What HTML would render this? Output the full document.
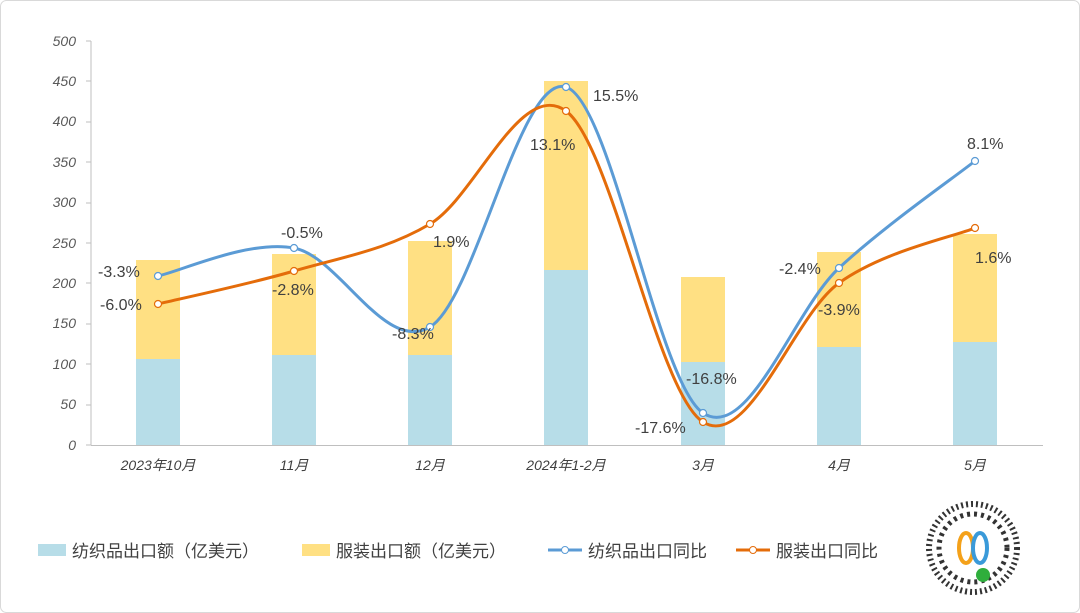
<!DOCTYPE html>
<html><head><meta charset="utf-8"><style>
body{margin:0;background:#fff;}
svg{display:block;font-family:"Liberation Sans","Noto Sans CJK SC",sans-serif;}
</style></head><body>
<svg width="1080" height="613" viewBox="0 0 1080 613">
<rect x="0.5" y="0.5" width="1079" height="612" rx="6" fill="#fff" stroke="#d9d9d9"/>
<g fill="#595959" font-size="14" text-anchor="end" font-style="italic">
<text x="76" y="450">0</text><text x="76" y="409">50</text><text x="76" y="369">100</text>
<text x="76" y="328">150</text><text x="76" y="288">200</text><text x="76" y="248">250</text>
<text x="76" y="207">300</text><text x="76" y="167">350</text><text x="76" y="126">400</text>
<text x="76" y="86">450</text><text x="76" y="46">500</text>
</g>
<g stroke="#bfbfbf" stroke-width="1">
<line x1="91" y1="41" x2="91" y2="445"/><line x1="91" y1="445.5" x2="1043" y2="445.5"/>
<line x1="86" y1="445" x2="91" y2="445"/><line x1="86" y1="405" x2="91" y2="405"/><line x1="86" y1="364" x2="91" y2="364"/><line x1="86" y1="324" x2="91" y2="324"/><line x1="86" y1="283" x2="91" y2="283"/><line x1="86" y1="243" x2="91" y2="243"/><line x1="86" y1="203" x2="91" y2="203"/><line x1="86" y1="162" x2="91" y2="162"/><line x1="86" y1="122" x2="91" y2="122"/><line x1="86" y1="81" x2="91" y2="81"/><line x1="86" y1="41" x2="91" y2="41"/>
</g>
<g fill="#ffe083">
<rect x="136" y="260" width="44" height="99"/><rect x="272" y="254" width="44" height="101"/><rect x="408" y="241" width="44" height="114"/><rect x="544" y="81" width="44" height="189"/><rect x="681" y="277" width="44" height="85"/><rect x="817" y="252" width="44" height="95"/><rect x="953" y="234" width="44" height="108"/>
</g>
<g fill="#b7dde8">
<rect x="136" y="359" width="44" height="86"/><rect x="272" y="355" width="44" height="90"/><rect x="408" y="355" width="44" height="90"/><rect x="544" y="270" width="44" height="175"/><rect x="681" y="362" width="44" height="83"/><rect x="817" y="347" width="44" height="98"/><rect x="953" y="342" width="44" height="103"/>
</g>
<path d="M158,276 C180.7,271.3 248.7,239.5 294,248 C339.3,256.5 384.7,353.8 430,327 C475.3,300.2 520.5,72.7 566,87 C611.5,101.3 657.5,382.8 703,413 C748.5,443.2 793.7,310 839,268 C884.3,226 952.3,178.8 975,161" fill="none" stroke="#5b9bd5" stroke-width="3"/>
<path d="M158,304 C180.7,298.5 248.7,284.3 294,271 C339.3,257.7 384.7,250.7 430,224 C475.3,197.3 520.5,78 566,111 C611.5,144 657.5,393.3 703,422 C748.5,450.7 793.7,315.3 839,283 C884.3,250.7 952.3,237.2 975,228" fill="none" stroke="#e46c0a" stroke-width="3"/>
<g fill="#fff" stroke="#5b9bd5" stroke-width="1.2">
<circle cx="158" cy="276" r="3.5"/><circle cx="294" cy="248" r="3.5"/><circle cx="430" cy="327" r="3.5"/><circle cx="566" cy="87" r="3.5"/><circle cx="703" cy="413" r="3.5"/><circle cx="839" cy="268" r="3.5"/><circle cx="975" cy="161" r="3.5"/>
</g>
<g fill="#fff" stroke="#e46c0a" stroke-width="1.2">
<circle cx="158" cy="304" r="3.5"/><circle cx="294" cy="271" r="3.5"/><circle cx="430" cy="224" r="3.5"/><circle cx="566" cy="111" r="3.5"/><circle cx="703" cy="422" r="3.5"/><circle cx="839" cy="283" r="3.5"/><circle cx="975" cy="228" r="3.5"/>
</g>
<g fill="#404040" font-size="16">
<text x="98" y="277">-3.3%</text><text x="100" y="310">-6.0%</text>
<text x="281" y="238">-0.5%</text><text x="272" y="295">-2.8%</text>
<text x="392" y="339">-8.3%</text><text x="433" y="247">1.9%</text>
<text x="593" y="101">15.5%</text><text x="530" y="150">13.1%</text>
<text x="686" y="384">-16.8%</text><text x="635" y="433">-17.6%</text>
<text x="779" y="274">-2.4%</text><text x="818" y="315">-3.9%</text>
<text x="967" y="149">8.1%</text><text x="975" y="263">1.6%</text>
</g>
<g fill="#404040" font-size="14" font-style="italic" text-anchor="middle">
<text x="158" y="470">2023年10月</text><text x="294" y="470">11月</text><text x="430" y="470">12月</text><text x="566" y="470">2024年1-2月</text><text x="703" y="470">3月</text><text x="839" y="470">4月</text><text x="975" y="470">5月</text>
</g>
<g font-size="17" fill="#404040">
<rect x="38" y="544" width="28" height="12" fill="#b7dde8"/><text x="72" y="557">纺织品出口额（亿美元）</text>
<rect x="302" y="544" width="28" height="12" fill="#ffe083"/><text x="336" y="557">服装出口额（亿美元）</text>
<line x1="548" y1="550" x2="582" y2="550" stroke="#5b9bd5" stroke-width="3"/><circle cx="565" cy="550" r="3.5" fill="#fff" stroke="#5b9bd5"/><text x="588" y="557">纺织品出口同比</text>
<line x1="736" y1="550" x2="770" y2="550" stroke="#e46c0a" stroke-width="3"/><circle cx="753" cy="550" r="3.5" fill="#fff" stroke="#e46c0a"/><text x="776" y="557">服装出口同比</text>
</g>
<g>
<circle cx="973" cy="548" r="44" fill="none" stroke="#333" stroke-width="6" stroke-dasharray="2 3"/>
<circle cx="973" cy="548" r="34" fill="none" stroke="#333" stroke-width="5" stroke-dasharray="3 4"/>
<circle cx="973" cy="548" r="22" fill="#fff"/>
<ellipse cx="966" cy="548" rx="7" ry="15" fill="none" stroke="#f4a11a" stroke-width="4"/>
<ellipse cx="980" cy="548" rx="7" ry="15" fill="none" stroke="#3a9ad9" stroke-width="4"/>
<circle cx="983" cy="575" r="7" fill="#2fae3c"/>
</g>
</svg>
</body></html>
